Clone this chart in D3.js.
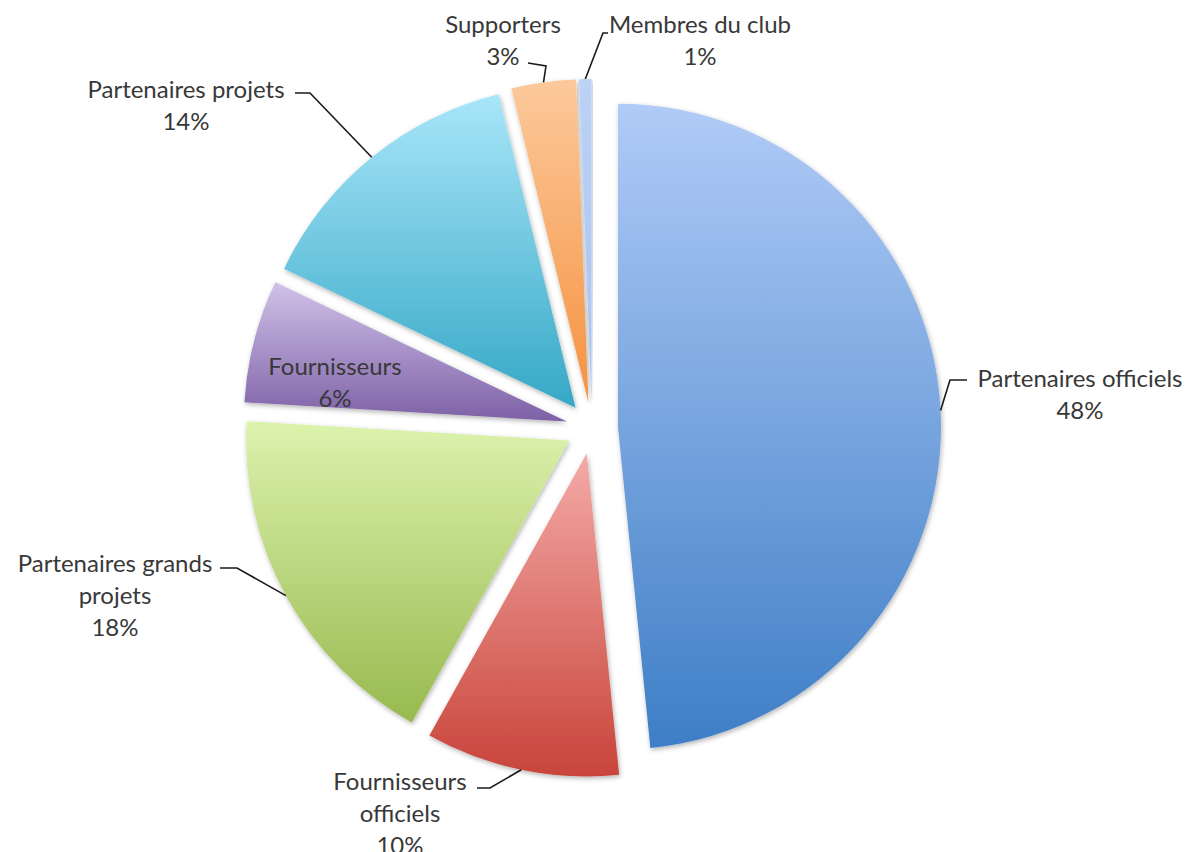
<!DOCTYPE html>
<html>
<head>
<meta charset="utf-8">
<script src="https://cdn.jsdelivr.net/npm/d3@7"></script>
<style>
  body { margin: 0; background: #fff; }
  svg { display: block; }
  .label { font-family: Lato, "Open Sans", sans-serif; font-size: 24px; fill: #383838; }
  .leader { fill: none; stroke: #1a1a1a; stroke-width: 1.6; }
</style>
</head>
<body>
<svg width="1195" height="852"></svg>
<script>
// data (percent of total, clockwise from 12 o'clock)
const categories = [
  'Partenaires officiels',
  'Fournisseurs officiels',
  'Partenaires grands projets',
  'Fournisseurs',
  'Partenaires projets',
  'Supporters',
  'Membres du club'
];
const values = [48.4, 9.7, 17.85, 6.14, 14.08, 3.22, 0.61];

// gradient colours per slice: [top, bottom]
const topColors = ['#b0cbf7', '#f4aaa7', '#dcf3ad', '#d0c2e8', '#a9e6f9', '#fcc99b', '#bcd2f6'];
const bottomColors = ['#3e7ec6', '#c8443a', '#98b94f', '#7d60a6', '#35a8c6', '#f59240', '#a9c2ef'];

// label layout: text lines, first baseline, leader elbow and end
const labelLines = [
  ['Partenaires officiels'],
  ['Fournisseurs', 'officiels'],
  ['Partenaires grands', 'projets'],
  ['Fournisseurs'],
  ['Partenaires projets'],
  ['Supporters'],
  ['Membres du club']
];
const labelPos = [[1080, 387], [400, 790], [115, 572], [335, 375], [186, 98], [503, 33], [700, 33]];
const leaderElbow = [[950, 380], [490, 788], [237, 568], null, [310, 93], [546, 66], [603, 33]];
const leaderEnd = [[967, 380], [477, 788], [220, 568], null, [295, 93], [528, 63], [608, 33]];

const svg = d3.select('svg');
const cx = 592, cy = 428;
const radius = 323;
const explode = 26;

const pctFormat = d3.format('.0%');

const defs = svg.append('defs');

const shadow = defs.append('filter')
  .attr('id', 'shadow')
  .attr('x', '-10%').attr('y', '-10%')
  .attr('width', '120%').attr('height', '120%');
shadow.append('feDropShadow')
  .attr('dx', 1).attr('dy', 2)
  .attr('stdDeviation', 2.5)
  .attr('flood-color', '#000')
  .attr('flood-opacity', 0.3);

categories.forEach((c, i) => {
  const grad = defs.append('linearGradient')
    .attr('id', 'grad' + i)
    .attr('x1', 0).attr('y1', 0)
    .attr('x2', 0).attr('y2', 1);
  grad.append('stop').attr('offset', '0%').attr('stop-color', topColors[i]);
  grad.append('stop').attr('offset', '100%').attr('stop-color', bottomColors[i]);
});

const pie = d3.pie().sort(null).value(d => d);
const arcs = pie(values);

const arcGen = d3.arc().innerRadius(0).outerRadius(radius);

// offset of each slice along its bisector
const shift = d => {
  const mid = (d.startAngle + d.endAngle) / 2;
  return [Math.sin(mid) * explode, -Math.cos(mid) * explode];
};

const g = svg.append('g')
  .attr('transform', `translate(${cx},${cy})`);

g.selectAll('path.slice').data(arcs)
  .enter().append('path')
  .attr('class', 'slice')
  .attr('transform', d => `translate(${shift(d)})`)
  .attr('d', arcGen)
  .attr('fill', (d, i) => `url(#grad${i})`)
  .attr('filter', 'url(#shadow)');

// leader lines: from outer arc at bisector to the label
const leaders = arcs.map((d, i) => {
  if (!leaderElbow[i]) return null;
  const mid = (d.startAngle + d.endAngle) / 2;
  const s = shift(d);
  const start = [cx + s[0] + Math.sin(mid) * radius, cy + s[1] - Math.cos(mid) * radius];
  return [start, leaderElbow[i], leaderEnd[i]];
}).filter(d => d);

svg.selectAll('polyline.leader').data(leaders)
  .enter().append('polyline')
  .attr('class', 'leader')
  .attr('points', d => d.map(p => p.join(',')).join(' '));

const labels = svg.selectAll('text.label').data(arcs)
  .enter().append('text')
  .attr('class', 'label')
  .attr('text-anchor', 'middle')
  .attr('x', (d, i) => labelPos[i][0])
  .attr('y', (d, i) => labelPos[i][1]);

labels.each(function (d, i) {
  const t = d3.select(this);
  const lines = labelLines[i].concat([pctFormat(d.data / 100)]);
  lines.forEach((line, j) => {
    t.append('tspan')
      .attr('x', labelPos[i][0])
      .attr('dy', j === 0 ? 0 : 32)
      .text(line);
  });
});
</script>
</body>
</html>
